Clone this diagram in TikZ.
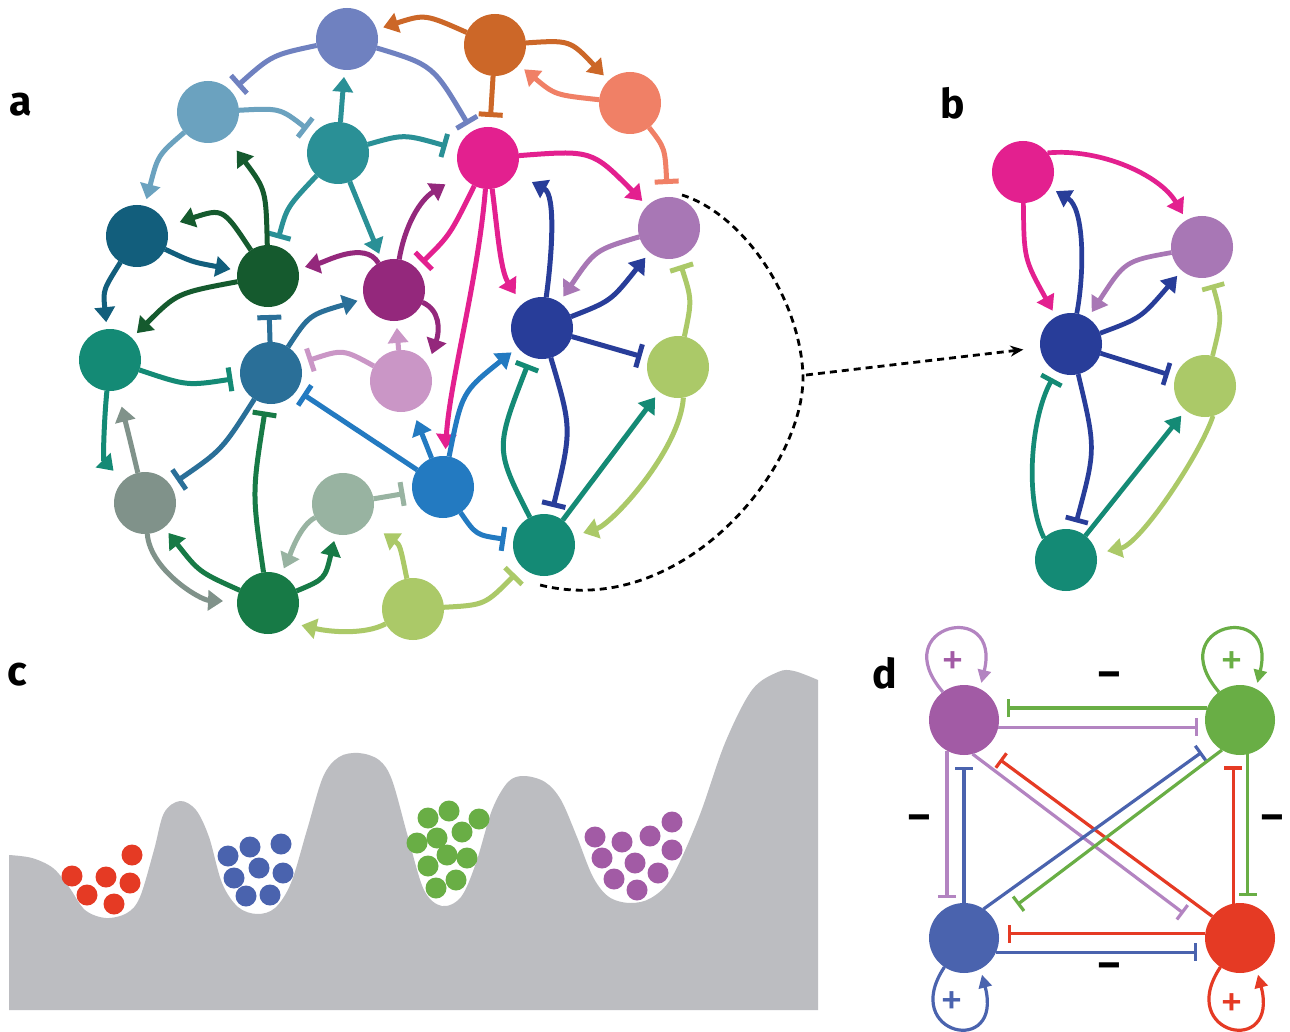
\documentclass[tikz,border=0pt]{standalone}
\usepackage{fontspec}
\setsansfont{Fira Sans}
\usetikzlibrary{arrows.meta}

% node colours
\definecolor{cLav}{HTML}{6F81C0}
\definecolor{cOra}{HTML}{CC6728}
\definecolor{cSal}{HTML}{F08066}
\definecolor{cSky}{HTML}{6BA2BF}
\definecolor{cTeal}{HTML}{2A9096}
\definecolor{cMag}{HTML}{E3208F}
\definecolor{cLil}{HTML}{A877B5}
\definecolor{cPetrol}{HTML}{125E7C}
\definecolor{cForest}{HTML}{155A2E}
\definecolor{cPlum}{HTML}{94287C}
\definecolor{cNavy}{HTML}{283D99}
\definecolor{cJade}{HTML}{148A75}
\definecolor{cSteel}{HTML}{2A6F98}
\definecolor{cOrchid}{HTML}{CA96C6}
\definecolor{cLime}{HTML}{ABC968}
\definecolor{cSage}{HTML}{80928A}
\definecolor{cMint}{HTML}{98B3A1}
\definecolor{cAzure}{HTML}{237AC1}
\definecolor{cGreen}{HTML}{177A46}
% square network and landscape colours
\definecolor{dPur}{HTML}{A25BA5}
\definecolor{dPurL}{HTML}{B384C1}
\definecolor{dGrn}{HTML}{69AE45}
\definecolor{dBlu}{HTML}{4A63AE}
\definecolor{dRed}{HTML}{E53A24}
\definecolor{land}{HTML}{BCBDC1}

\begin{document}
\begin{tikzpicture}[x=1pt,y=-1pt,
  nd/.style={circle,inner sep=0pt,outer sep=0pt,minimum size=62pt},
  dn/.style={circle,inner sep=0pt,outer sep=0pt,minimum size=70pt},
  act/.style={line width=5pt,-{Triangle[length=15pt,width=20pt]},shorten >=7pt},
  inh/.style={line width=5pt,-{Bar[width=24pt]},shorten >=8pt},
  bact/.style={line width=4.7pt,-{Triangle[length=15pt,width=19pt]},shorten >=7pt},
  binh/.style={line width=4.7pt,-{Bar[width=23pt]},shorten >=8pt},
  dinh/.style={line width=3.2pt,-{Bar[width=18pt]}},
  dloop/.style={line width=3.2pt,-{Triangle[length=13pt,width=13pt]},shorten >=6pt},
  lbl/.style={inner sep=0pt,font=\sffamily\bfseries\fontsize{41}{41}\selectfont},
  sgn/.style={inner sep=0pt,font=\sffamily\bfseries\fontsize{42}{42}\selectfont},
  pls/.style={inner sep=0pt,font=\sffamily\fontsize{46}{46}\selectfont},
  ball/.style={circle,inner sep=0pt,minimum size=21pt},
  dashln/.style={black,line width=2.8pt,dash pattern=on 7pt off 5pt}
]
\useasboundingbox (0,0) rectangle (1290,1032);
\fill[white] (0,0) rectangle (1290,1032);

% ---------------- panel labels ----------------
\node[lbl] (la) at (21,105) {a};
\node[lbl] (lb) at (953,103) {b};
\node[lbl] (lc) at (17,675) {c};
\node[lbl] (ld) at (885,673) {d};

% ---------------- panel a: nodes ----------------
\node[nd,fill=cLav]    (n1)  at (347,39)  {};
\node[nd,fill=cOra]    (n2)  at (495,45)  {};
\node[nd,fill=cSal]    (n3)  at (630,103) {};
\node[nd,fill=cSky]    (n4)  at (208,112) {};
\node[nd,fill=cTeal]   (n5)  at (338,153) {};
\node[nd,fill=cMag]    (n6)  at (488,158) {};
\node[nd,fill=cLil]    (n7)  at (669,228) {};
\node[nd,fill=cPetrol] (n8)  at (137,236) {};
\node[nd,fill=cForest] (n9)  at (268,276) {};
\node[nd,fill=cPlum]   (n10) at (394,290) {};
\node[nd,fill=cNavy]   (n11) at (542,328) {};
\node[nd,fill=cJade]   (n12) at (110,360) {};
\node[nd,fill=cSteel]  (n13) at (271,373) {};
\node[nd,fill=cOrchid] (n14) at (401,381) {};
\node[nd,fill=cLime]   (n15) at (678,367) {};
\node[nd,fill=cSage]   (n16) at (145,503) {};
\node[nd,fill=cMint]   (n17) at (343,504) {};
\node[nd,fill=cAzure]  (n18) at (443,487) {};
\node[nd,fill=cJade]   (n19) at (544,545) {};
\node[nd,fill=cGreen]  (n20) at (268,603) {};
\node[nd,fill=cLime]   (n21) at (413,609) {};

% ---------------- panel a: connectors ----------------
\draw[inh,cLav] (n1) .. controls (272,55) .. (n4);
\draw[inh,cLav] (n1) .. controls (433,65) .. (n6);
\draw[act,cOra] (n2) .. controls (425,14) .. (n1);
\draw[act,cOra] (n2) .. controls (570,40) .. (n3);
\draw[act,cSal] (n3) .. controls (555,95) .. (n2);
\draw[inh,cOra,shorten >=10pt] (n2) -- (n6);
\draw[inh,cSal,shorten >=13pt] (n3) .. controls (665,148) .. (n7);
\draw[act,cMag] (n6) .. controls (592,150) .. (n7);
\draw[inh,cSky] (n4) .. controls (280,108) .. (n5);
\draw[act,cSky] (n4) .. controls (158,155) .. (n8);
\draw[act,cTeal] (n5) -- (n1);
\draw[inh,cTeal,shorten >=12pt] (n5) .. controls (404,134) .. (n6);
\draw[act,cTeal,shorten >=8pt] (n5) -- (n10);
\draw[inh,cTeal] (n5) .. controls (287,207) .. (n9);
\draw[act,cForest,shorten >=17pt] (n9) .. controls (266,190) .. (n4);
\draw[act,cForest,shorten >=14pt] (n9) .. controls (223,208) .. (n8);
\draw[act,cPetrol] (n8) .. controls (192,262) .. (n9);
\draw[act,cPetrol] (n8) .. controls (103,290) .. (n12);
\draw[act,cForest] (n9) .. controls (177,293) .. (n12);
\draw[act,cPlum] (n10) .. controls (365,240) and (325,262) .. (n9);
\draw[inh,cSteel] (n13) -- (n9);
\draw[act,cSteel] (n13) .. controls (309,315) .. (n10);
\draw[act,cPlum,shorten >=12pt] (n10) .. controls (440,310) and (440,330) .. (n14.30);
\draw[act,cOrchid] (n14) -- (n10);
\draw[inh,cOrchid] (n14) .. controls (343,349) .. (n13);
\draw[inh,cJade] (n12) .. controls (187,386) .. (n13);
\draw[inh,cAzure,shorten >=7pt] (n18) -- (n13);
\draw[inh,cSteel] (n13) .. controls (222,450) .. (n16);
\draw[inh,cGreen] (n20) .. controls (252,493) .. (n13);
\draw[act,cJade,shorten >=14pt] (n12) .. controls (104,420) and (103,460) .. (n16);
\draw[act,cSage,shorten >=17pt] (n16) .. controls (130,440) .. (n12);
\draw[act,cSage,shorten >=14pt] (n16) .. controls (150,570) and (200,600) .. (n20);
\draw[act,cGreen] (n20) .. controls (199,572) .. (n16);
\draw[act,cGreen] (n20) .. controls (325,579) .. (n17);
\draw[act,cMint] (n17) .. controls (300,525) and (290,555) .. (n20);
\draw[inh,cMint] (n17) -- (n18);
\draw[act,cLime,shorten >=19pt] (n21) .. controls (400,545) .. (n17);
\draw[act,cLime,shorten >=10pt] (n21) .. controls (365,635) and (330,632) .. (n20.320);
\draw[inh,cMag] (n6) .. controls (450,235) .. (n10);
\draw[act,cMag] (n6) .. controls (478,280) and (450,380) .. (n18);
\draw[act,cMag,shorten >=12pt] (n6) .. controls (497,225) and (500,270) .. (n11.130);
\draw[act,cPlum,shorten >=19pt] (n10) .. controls (405,225) and (420,200) .. (n6);
\draw[act,cNavy,shorten >=19pt] (n11) .. controls (552,255) and (556,195) .. (n6.331);
\draw[act,cLil] (n7) .. controls (595,250) .. (n11);
\draw[act,cNavy] (n11) .. controls (611,301) .. (n7);
\draw[inh,cNavy,shorten >=7pt] (n11) -- (n15);
\draw[inh,cLime] (n15) .. controls (692,300) .. (n7);
\draw[inh,cNavy] (n11) .. controls (572,429) .. (n19);
\draw[inh,cJade] (n19) .. controls (495,449) .. (n11);
\draw[act,cAzure,shorten >=8pt] (n18) .. controls (462,392) .. (n11);
\draw[act,cAzure,shorten >=11pt] (n18) -- (n14);
\draw[inh,cAzure] (n18) .. controls (476,535) .. (n19);
\draw[act,cJade] (n19) -- (n15);
\draw[act,cLime,shorten >=10pt] (n15.280) .. controls (680,450) and (612,524) .. (n19.17);
\draw[inh,cLime,shorten >=10pt] (n21) .. controls (485,605) .. (n19);

% dashed outline of the sub-network
\draw[dashln]
  (682,195) .. controls (745,215) and (800,300) .. (803,375)
  .. controls (805,470) and (680,620) .. (540,585);

% ---------------- panel b ----------------
\node[nd,fill=cMag]  (b6)  at (1023,172) {};
\node[nd,fill=cLil]  (b7)  at (1202,247) {};
\node[nd,fill=cNavy] (b11) at (1071,344) {};
\node[nd,fill=cLime] (b15) at (1205,386) {};
\node[nd,fill=cJade] (b19) at (1066,560) {};

\coordinate (dstart) at (806,375);
\draw[dashln,-{Stealth[length=13pt,width=11pt]},shorten >=17pt] (dstart) -- (b11);

\draw[bact,cMag] (b6.38) .. controls (1100,148) and (1160,175) .. (b7);
\draw[bact,cMag] (b6) .. controls (1024,259) .. (b11);
\draw[bact,cNavy] (b11) .. controls (1085,270) and (1084,208) .. (b6.330);
\draw[bact,cLil] (b7) .. controls (1125,261) .. (b11);
\draw[bact,cNavy] (b11) .. controls (1141,318) .. (b7);
\draw[binh,cNavy,shorten >=7pt] (b11) -- (b15);
\draw[binh,cLime] (b15) .. controls (1222,318) .. (b7);
\draw[binh,cNavy] (b11) .. controls (1096,449) .. (b19);
\draw[binh,cJade] (b19.135) .. controls (1025,500) and (1030,420) .. (b11);
\draw[bact,cJade] (b19) -- (b15);
\draw[bact,cLime,shorten >=11pt] (b15.285) .. controls (1200,455) and (1140,544) .. (b19.12);

% ---------------- panel c: landscape ----------------
\fill[land] (9,1010) -- (9,855) -- plot[smooth,tension=0.55] coordinates {
  (9,855) (32,858) (53,868) (69,887) (85,910) (106,918) (127,913) (140,897)
  (154,850) (164,813) (180,801) (196,810) (209,837) (222,883) (238,907)
  (257,914) (275,908) (291,883) (307,830) (323,777) (339,757) (359,753)
  (379,760) (392,780) (408,837) (424,890) (442,906) (461,897) (476,863)
  (492,810) (508,782) (524,776) (545,782) (561,800) (577,837) (593,877)
  (609,897) (630,903) (651,898) (672,877) (699,817) (725,743) (752,690)
  (778,672) (794,671) (818,680)}
  -- (818,1010) -- cycle;

% red cluster
\foreach \p [count=\i] in {(72,876),(132,855),(106,877),(130,883),(87,895),(114,904)}
  \node[ball,fill=dRed] (r\i) at \p {};
% blue cluster
\foreach \p [count=\i] in {(228,856),(250,847),(281,844),(259,868),(234,878),(283,873),(246,896),(270,895)}
  \node[ball,fill=dBlu] (u\i) at \p {};
% green cluster
\foreach \p [count=\i] in {(428,818),(449,811),(479,819),(462,832),(437,838),(417,843),(447,855),(467,858),(428,866),(456,880),(436,888)}
  \node[ball,fill=dGrn] (g\i) at \p {};
% purple cluster
\foreach \p [count=\i] in {(595,837),(622,842),(650,836),(672,822),(602,858),(635,863),(672,850),(614,879),(658,873),(637,890)}
  \node[ball,fill=dPur] (v\i) at \p {};

% ---------------- panel d ----------------
\node[dn,fill=dPur] (pD) at (964,720) {};
\node[dn,fill=dGrn] (gD) at (1240,720) {};
\node[dn,fill=dBlu] (bD) at (964,938) {};
\node[dn,fill=dRed] (rD) at (1240,938) {};

\draw[dinh,dGrn,shorten >=10pt] (gD.160) -- (pD.20);
\draw[dinh,dPurL,shorten >=8pt] (pD.348) -- (gD.192);
\draw[dinh,dPurL,shorten >=9pt] (pD.241) -- (bD.119);
\draw[dinh,dBlu,shorten >=12pt] (bD.north) -- (pD.south);
\draw[dinh,dGrn,shorten >=8pt] (gD.283) -- (rD.77);
\draw[dinh,dRed,shorten >=12pt] (rD.101) -- (gD.259);
\draw[dinh,dRed,shorten >=9pt] (rD.173) -- (bD.7);
\draw[dinh,dBlu,shorten >=11pt] (bD.336) -- (rD.204);
\draw[dinh,dPurL,shorten >=28pt] (pD.284) -- (rD.167);
\draw[dinh,dRed,shorten >=19pt] (rD.142) -- (pD.306);
\draw[dinh,dBlu,shorten >=15pt] (bD.56) -- (gD.222);
\draw[dinh,dGrn,shorten >=28pt] (gD.239) -- (bD.28);

% self-activation loops
\draw[dloop,dPurL] (pD.127) .. controls (885,625) and (1002,598) .. (pD.63);
\draw[dloop,dGrn] (gD.127) .. controls (1161,625) and (1278,598) .. (gD.63);
\draw[dloop,dBlu] (bD.236) .. controls (899,1035) and (1004,1058) .. (bD.298);
\draw[dloop,dRed] (rD.236) .. controls (1175,1035) and (1280,1058) .. (rD.298);

\node[pls,dPur] (pp) at (953,664) {+};
\node[pls,dGrn] (pg) at (1232,664) {+};
\node[pls,dBlu] (pb) at (952,1004) {+};
\node[pls,dRed] (pr) at (1232,1006) {+};

\node[sgn] (mt) at (1109,680) {–};
\node[sgn] (ml) at (919,823) {–};
\node[sgn] (mr) at (1272,823) {–};
\node[sgn] (mb) at (1109,971) {–};
\end{tikzpicture}
\end{document}
